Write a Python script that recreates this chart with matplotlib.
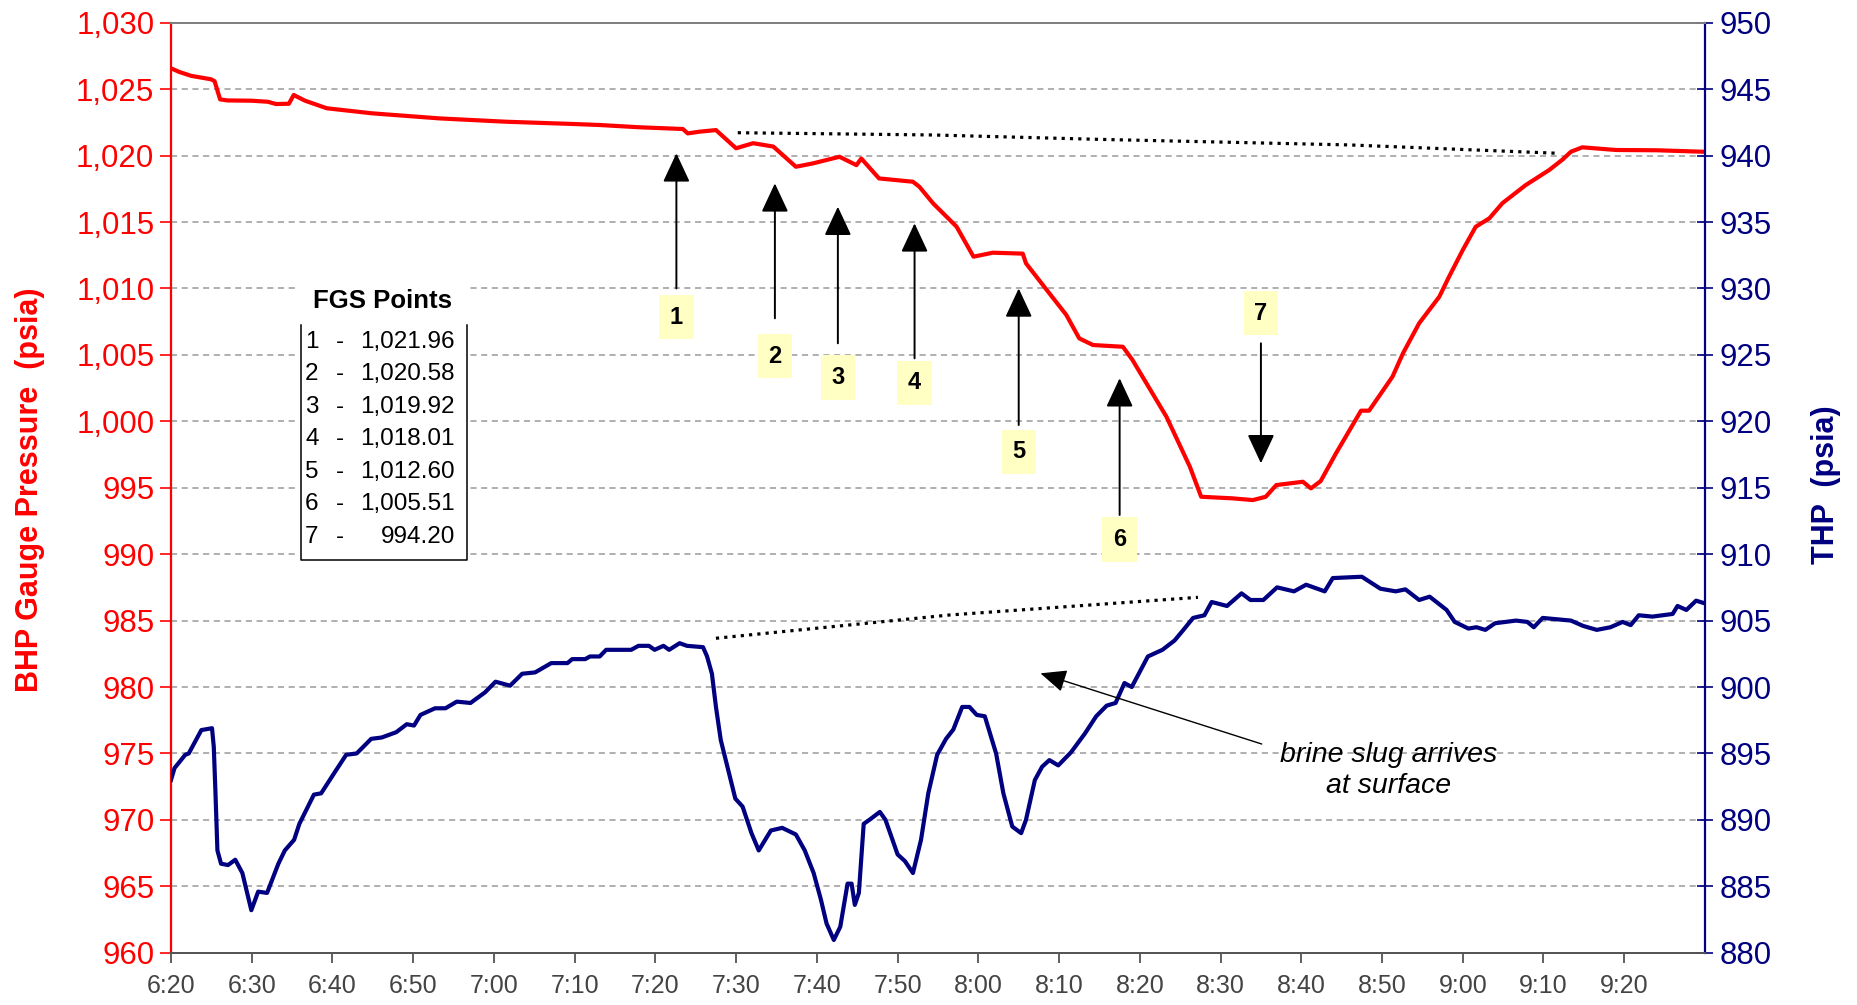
import matplotlib
matplotlib.use("Agg")
import matplotlib.pyplot as plt
from matplotlib.patches import Rectangle
from matplotlib.ticker import FuncFormatter, FixedLocator

plt.rcParams['font.family'] = ['Liberation Sans', 'DejaVu Sans']

# ---- data: minutes after 6:20 ----
bhp_minutes = [0.0, 1.0, 2.5, 4.97, 5.4, 6.08, 7.0, 9.95, 12.0, 13.0, 14.6, 15.2, 16.6,
               19.3, 24.9, 33.2, 41.4, 49.7, 53.1, 58.0, 63.4, 64.0, 65.5, 67.5, 69.99,
               72.1, 74.6, 77.4, 79.5, 82.8, 84.9, 85.5, 87.7, 91.9, 92.7, 94.4, 97.3,
               99.4, 101.8, 105.5, 105.9, 108.8, 110.9, 112.5, 114.2, 117.9, 119.1, 123.3,
               126.2, 127.6, 131.5, 134.0, 135.6, 136.9, 140.2, 141.2, 142.4, 144.3, 147.4,
               148.4, 151.3, 152.6, 154.6, 157.1, 158.3, 160.0, 161.6, 163.3, 164.9, 167.8,
               170.7, 172.4, 173.4, 174.8, 179.0, 184.0, 189.7]
bhp_psia = [1026.57, 1026.3, 1026.0, 1025.74, 1025.6, 1024.23, 1024.15, 1024.13, 1024.05,
            1023.88, 1023.9, 1024.56, 1024.13, 1023.56, 1023.18, 1022.80, 1022.55, 1022.38,
            1022.30, 1022.13, 1022.0, 1021.67, 1021.8, 1021.92, 1020.55, 1020.93, 1020.68,
            1019.16, 1019.41, 1019.91, 1019.28, 1019.78, 1018.28, 1018.03, 1017.65, 1016.40,
            1014.65, 1012.39, 1012.69, 1012.62, 1011.89, 1009.63, 1008.0, 1006.24, 1005.74,
            1005.61, 1004.61, 1000.34, 996.58, 994.32, 994.20, 994.07, 994.32, 995.2, 995.45,
            994.95, 995.5, 997.59, 1000.8, 1000.8, 1003.36, 1005.12, 1007.38, 1009.38,
            1010.88, 1012.89, 1014.64, 1015.28, 1016.41, 1017.78, 1018.91, 1019.72, 1020.29,
            1020.62, 1020.42, 1020.4, 1020.29]

thp_minutes = [0.0, 0.44, 1.77, 2.2, 3.76, 5.08, 5.3, 5.5, 5.75, 6.2, 7.07, 7.96, 8.84, 9.95,
               10.8, 11.9, 13.3, 14.1, 15.25, 15.9, 17.7, 18.6, 20.3, 21.7, 23.0, 24.8, 26.1,
               27.9, 29.2, 30.1, 30.9, 32.7, 34.0, 35.4, 37.1, 38.9, 40.2, 42.0, 43.5, 45.1,
               47.1, 49.1, 49.7, 51.3, 51.9, 53.1, 53.9, 57.0, 57.9, 59.2, 59.9, 61.0, 61.7,
               63.0, 63.9, 65.9, 66.4, 67.0, 67.5, 68.1, 68.8, 69.9, 70.8, 71.9, 72.8, 74.3,
               75.7, 77.4, 78.5, 79.6, 80.5, 81.2, 82.1, 82.9, 83.8, 84.3, 84.7, 85.2, 85.8,
               86.5, 87.8, 88.5, 90.0, 90.9, 91.9, 92.9, 93.8, 94.9, 96.0, 96.9, 98.0, 98.9,
               99.8, 100.8, 102.2, 103.1, 104.2, 105.3, 105.9, 107.0, 107.9, 108.8, 109.9,
               111.5, 113.2, 114.6, 115.9, 117.0, 118.1, 119.0, 121.0, 122.8, 124.3, 125.4,
               126.6, 128.0, 128.9, 130.8, 132.6, 133.7, 135.3, 137.0, 139.1, 140.6, 142.9,
               143.9, 147.5, 149.8, 151.7, 152.9, 154.6, 155.9, 158.0, 159.0, 160.7, 161.7,
               162.8, 164.0, 166.6, 168.0, 168.8, 169.9, 173.4, 174.9, 176.6, 178.3, 179.8,
               180.8, 181.8, 183.5, 186.0, 186.6, 187.7, 188.9, 189.7]
thp_psia = [893.0, 893.9, 894.9, 895.0, 896.76, 896.9, 895.5, 892.2, 887.7, 886.7, 886.6,
            887.0, 886.0, 883.2, 884.6, 884.5, 886.7, 887.7, 888.5, 889.7, 891.9, 892.0,
            893.6, 894.9, 895.0, 896.1, 896.2, 896.6, 897.2, 897.1, 897.9, 898.4, 898.4,
            898.9, 898.8, 899.6, 900.4, 900.1, 901.0, 901.1, 901.8, 901.8, 902.1, 902.1,
            902.3, 902.3, 902.8, 902.8, 903.1, 903.1, 902.8, 903.1, 902.8, 903.3, 903.1,
            903.0, 902.3, 901.0, 898.5, 896.0, 894.3, 891.6, 891.0, 889.0, 887.7, 889.2,
            889.4, 888.9, 887.7, 886.0, 884.0, 882.2, 880.96, 881.96, 885.2, 885.2, 883.6,
            884.5, 889.7, 890.0, 890.6, 890.0, 887.4, 886.9, 886.0, 888.5, 892.0, 894.9,
            896.1, 896.8, 898.5, 898.5, 897.9, 897.8, 895.0, 892.0, 889.5, 889.0, 890.0,
            893.0, 894.0, 894.5, 894.1, 895.1, 896.5, 897.8, 898.6, 898.8, 900.3, 900.0,
            902.3, 902.8, 903.5, 904.3, 905.2, 905.4, 906.4, 906.1, 907.05, 906.55, 906.55,
            907.5, 907.2, 907.7, 907.2, 908.2, 908.3, 907.4, 907.2, 907.35, 906.55, 906.8,
            905.8, 904.9, 904.4, 904.5, 904.3, 904.8, 905.0, 904.9, 904.5, 905.2, 905.0,
            904.6, 904.3, 904.5, 904.9, 904.66, 905.4, 905.3, 905.5, 906.1, 905.8, 906.5,
            906.35]

# trend lines (dotted)
bhp_trend_minutes = [70.2, 94.4, 115.0, 146.0, 171.9]
bhp_trend_psia = [1021.72, 1021.55, 1021.22, 1020.80, 1020.17]
thp_trend_minutes = [67.5, 96.4, 127.2]
thp_trend_psia = [903.67, 905.42, 906.75]

# FGS points
fgs_labels = ['1', '2', '3', '4', '5', '6', '7']
fgs_values = [1021.96, 1020.58, 1019.92, 1018.01, 1012.60, 1005.51, 994.20]
fgs_minutes = [62.6, 74.8, 82.6, 92.1, 105.0, 117.5, 135.0]
fgs_arrow_tail = [1010.0, 1007.75, 1005.87, 1004.74, 999.72, 992.95, 1005.87]
fgs_arrow_head = [1020.17, 1017.91, 1016.15, 1014.9, 1010.0, 1003.24, 996.84]
fgs_label_psia = [1007.85, 1004.9, 1003.3, 1002.9, 997.7, 991.1, 1008.13]

x_tick_minutes = list(range(0, 190, 10))
x_tick_labels = ['6:20', '6:30', '6:40', '6:50', '7:00', '7:10', '7:20', '7:30', '7:40',
                 '7:50', '8:00', '8:10', '8:20', '8:30', '8:40', '8:50', '9:00', '9:10', '9:20']

RED = '#FF0000'
NAVY = '#000080'

fig = plt.figure(figsize=(18.58, 10.05), dpi=100)
ax = fig.add_axes([0.09203, 0.0520, 0.8256, 0.9254])
ax2 = ax.twinx()

ax.set_xlim(0, 190)
ax.set_ylim(960, 1030)
ax2.set_ylim(880, 950)

# grid
for v in range(965, 1030, 5):
    ax.axhline(v, color='#9a9a9a', lw=1.1, ls=(0, (4, 3)), zorder=0)

ax.plot(bhp_minutes, bhp_psia, color=RED, lw=3.0, zorder=3)
ax2.plot(thp_minutes, thp_psia, color=NAVY, lw=3.0, zorder=3)

ax.plot(bhp_trend_minutes, bhp_trend_psia, color='black', lw=2.3, ls=(0, (1, 1.6)), zorder=2)
ax2.plot(thp_trend_minutes, thp_trend_psia, color='black', lw=2.3, ls=(0, (1, 1.6)), zorder=2)

# axes styling
ax.yaxis.set_major_locator(FixedLocator(range(960, 1031, 5)))
ax2.yaxis.set_major_locator(FixedLocator(range(880, 951, 5)))
ax.yaxis.set_major_formatter(FuncFormatter(lambda v, p: f"{v:,.0f}"))
ax.set_xticks(x_tick_minutes)
ax.set_xticklabels(x_tick_labels)

ax.tick_params(axis='y', colors=RED, labelsize=22.5, length=8, width=1.2, direction='out', pad=4)
ax2.tick_params(axis='y', colors=NAVY, labelsize=22.5, length=11, width=1.2, direction='inout', pad=5)
ax.tick_params(axis='x', colors='#444444', labelsize=18, length=7, width=1.2, direction='out', pad=8)
for lab in ax.get_yticklabels():
    lab.set_color(RED)
for lab in ax2.get_yticklabels():
    lab.set_color(NAVY)

ax.spines['left'].set_color(RED)
ax.spines['left'].set_linewidth(1.6)
ax2.spines['right'].set_color(NAVY)
ax2.spines['right'].set_linewidth(1.6)
for a in (ax, ax2):
    a.spines['top'].set_color('#808080')
    a.spines['top'].set_linewidth(1.4)
    a.spines['bottom'].set_color('#555555')
    a.spines['bottom'].set_linewidth(1.4)
ax2.spines['left'].set_visible(False)
ax.spines['right'].set_visible(False)

fig.text(0.0162, 0.513, 'BHP Gauge Pressure  (psia)', rotation=90, color=RED,
         fontsize=22, fontweight='bold', ha='center', va='center')
fig.text(0.983, 0.518, 'THP  (psia)', rotation=90, color=NAVY,
         fontsize=22, fontweight='bold', ha='center', va='center')

# FGS table
ax.add_patch(Rectangle((15.6, 989.56), 21.4, 21.07, facecolor='white', edgecolor='none', zorder=4))
ax.plot([16.06, 16.06, 36.68, 36.68], [1007.25, 989.56, 989.56, 1007.25],
        color='black', lw=1.1, zorder=5)
ax.text(26.24, 1009.05, 'FGS Points', fontsize=18.5, fontweight='bold', ha='center',
        va='center', zorder=6)
for i, (lab, val) in enumerate(zip(fgs_labels, fgs_values)):
    yy = 1005.99 - i * 2.446
    ax.text(16.6, yy, lab, fontsize=17.5, ha='left', va='center', zorder=6)
    ax.text(20.9, yy, '-', fontsize=17.5, ha='center', va='center', zorder=6)
    ax.text(35.16, yy, f"{val:,.2f}", fontsize=17.5, ha='right', va='center', zorder=6)

# FGS arrows and numbered labels
for lab, t, tail, head, ly in zip(fgs_labels, fgs_minutes, fgs_arrow_tail,
                                  fgs_arrow_head, fgs_label_psia):
    ax.annotate('', xy=(t, head), xytext=(t, tail),
                arrowprops=dict(arrowstyle='-|>,head_length=0.9,head_width=0.42',
                                color='black', lw=1.4, shrinkA=0, shrinkB=0,
                                mutation_scale=20),
                zorder=6)
    ax.text(t, ly, lab, fontsize=17, fontweight='bold', ha='center', va='center', zorder=7,
            bbox=dict(boxstyle='square,pad=0.45', facecolor='#FFFFC4', edgecolor='none'))

# brine slug annotation
ax2.annotate('', xy=(107.7, 901.03), xytext=(135.1, 895.71),
             arrowprops=dict(arrowstyle='-|>,head_length=0.8,head_width=0.35',
                             color='black', lw=1.0, shrinkA=0, shrinkB=0,
                             mutation_scale=20))
ax2.text(150.8, 893.75, 'brine slug arrives\nat surface', fontsize=20.5, fontstyle='italic',
         ha='center', va='center', linespacing=1.25)

fig.savefig('out.png', dpi=100, facecolor='white')
